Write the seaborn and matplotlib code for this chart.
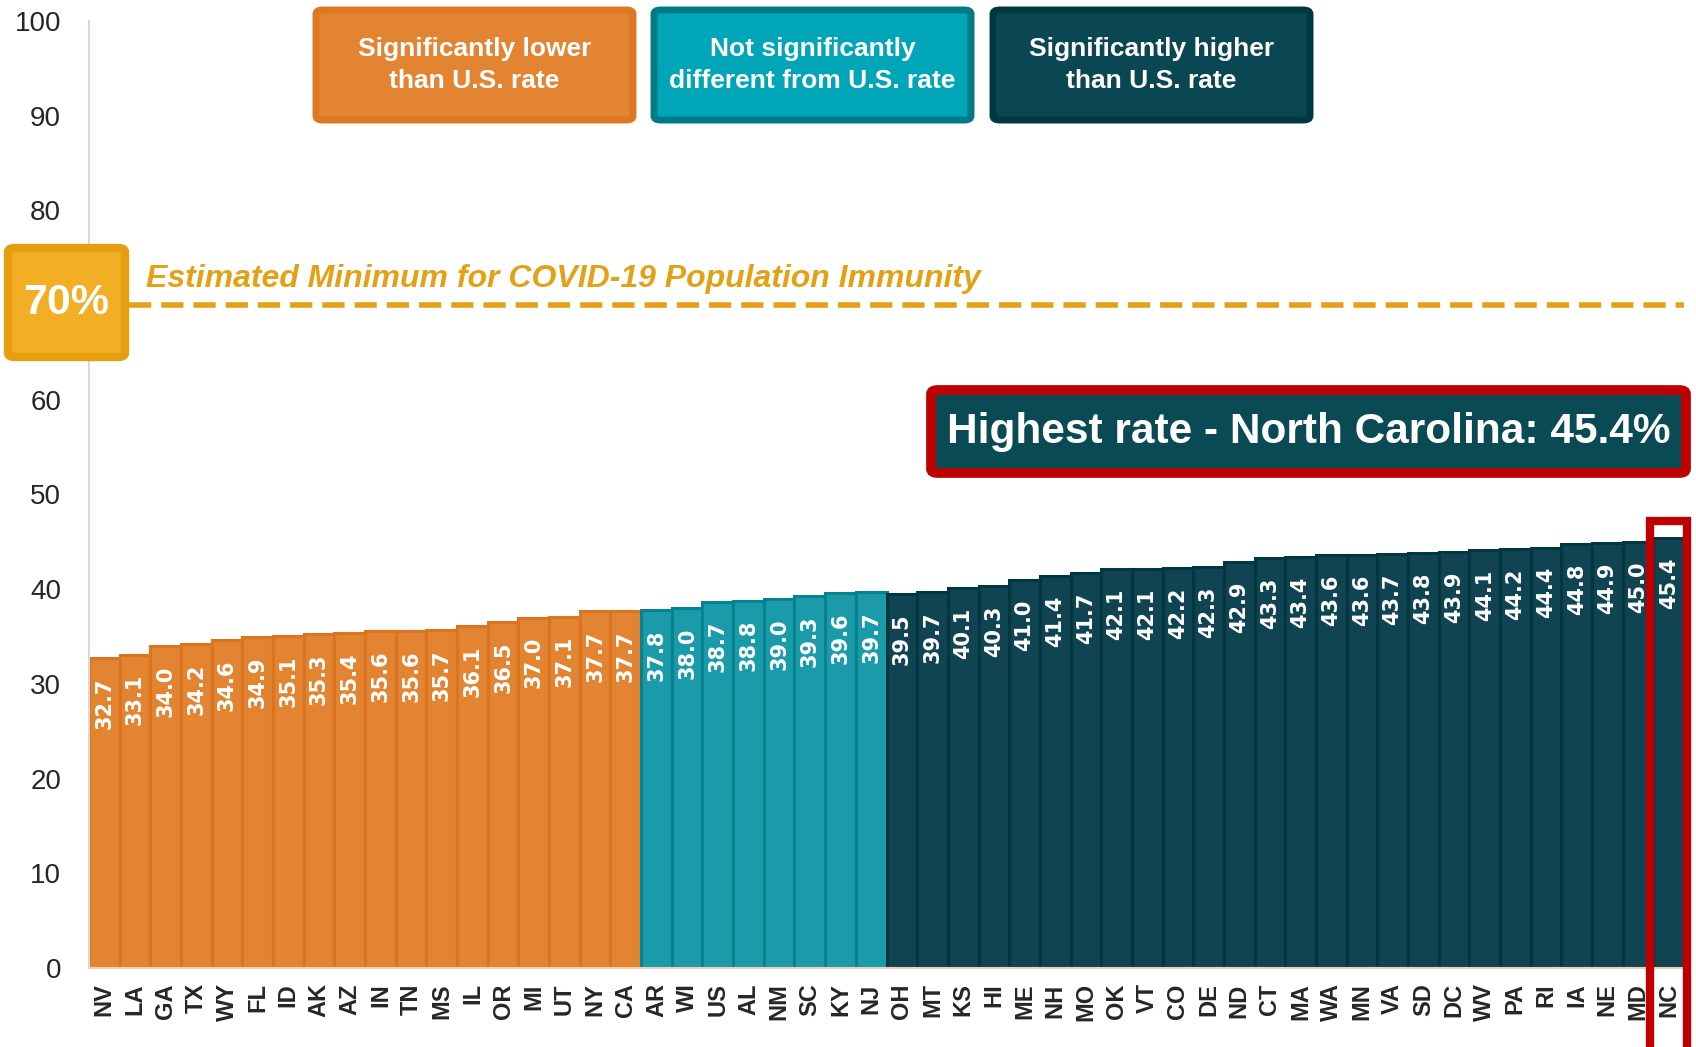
import matplotlib
matplotlib.use('Agg')
import matplotlib.pyplot as plt
import seaborn as sns
import pandas as pd
from matplotlib.patches import FancyBboxPatch, Rectangle

sns.set_style('white')
plt.rcParams['font.family'] = ['Liberation Sans', 'DejaVu Sans']

# dados
states = ['NV', 'LA', 'GA', 'TX', 'WY', 'FL', 'ID', 'AK', 'AZ', 'IN', 'TN', 'MS', 'IL',
          'OR', 'MI', 'UT', 'NY', 'CA',
          'AR', 'WI', 'US', 'AL', 'NM', 'SC', 'KY', 'NJ',
          'OH', 'MT', 'KS', 'HI', 'ME', 'NH', 'MO', 'OK', 'VT', 'CO', 'DE', 'ND', 'CT',
          'MA', 'WA', 'MN', 'VA', 'SD', 'DC', 'WV', 'PA', 'RI', 'IA', 'NE', 'MD', 'NC']
rates = [32.7, 33.1, 34.0, 34.2, 34.6, 34.9, 35.1, 35.3, 35.4, 35.6, 35.6, 35.7, 36.1,
         36.5, 37.0, 37.1, 37.7, 37.7,
         37.8, 38.0, 38.7, 38.8, 39.0, 39.3, 39.6, 39.7,
         39.5, 39.7, 40.1, 40.3, 41.0, 41.4, 41.7, 42.1, 42.1, 42.2, 42.3, 42.9, 43.3,
         43.4, 43.6, 43.6, 43.7, 43.8, 43.9, 44.1, 44.2, 44.4, 44.8, 44.9, 45.0, 45.4]
groups = ['lower'] * 18 + ['same'] * 8 + ['higher'] * 26
group_labels = ['Significantly lower\nthan U.S. rate',
                'Not significantly\ndifferent from U.S. rate',
                'Significantly higher\nthan U.S. rate']
y_ticks = [0, 10, 20, 30, 40, 50, 60, 70, 80, 90, 100]
y_ticklabels = ['0', '10', '20', '30', '40', '50', '60', '', '80', '90', '100']
immunity_target = 70
highest_text = 'Highest rate - North Carolina: 45.4%'

fill = {'lower': '#E38432', 'same': '#1B9BAA', 'higher': '#114452'}
edge = {'lower': '#DA741F', 'same': '#07838F', 'higher': '#01373E'}
box_fill = ['#E38432', '#00A6B8', '#0A4753']
box_edge = ['#DE7720', '#007A87', '#003840']
gold = '#E5A116'

df = pd.DataFrame({'state': states, 'rate': rates, 'group': groups})

W, H = 1696, 1047
fig = plt.figure(figsize=(W / 100, H / 100), dpi=100)
ax = fig.add_axes([89 / W, 1 - 968 / H, (1684 - 89) / W, (968 - 21) / H])

sns.barplot(data=df, x='state', y='rate', hue='group', palette=fill, dodge=False,
            width=1.0, legend=False, ax=ax, saturation=1)
for bar, g in zip(sorted(ax.patches, key=lambda p: p.get_x())[:len(states)], groups):
    bar.set_edgecolor(edge[g])
    bar.set_linewidth(2.2)

ax.set_xlim(-0.5, len(states) - 0.5)
ax.set_ylim(0, 100)
ax.set_yticks(y_ticks)
ax.set_yticklabels(y_ticklabels)
ax.set_xlabel('')
ax.set_ylabel('')
for s in ['top', 'right']:
    ax.spines[s].set_visible(False)
ax.spines['left'].set_color('#D9D9D9')
ax.spines['left'].set_linewidth(1.5)
ax.spines['bottom'].set_color('#F0D0B5')
ax.spines['bottom'].set_linewidth(1.5)
ax.tick_params(axis='y', length=7, width=1.3, color='#D9D9D9', labelsize=20, pad=13)
ax.tick_params(axis='x', length=0, pad=11)
for t in ax.get_xticklabels():
    t.set_rotation(90)
    t.set_fontweight('bold')
    t.set_fontsize(17)

# rotulos de valor dentro das barras
for i, v in enumerate(rates):
    ax.annotate(f'{v:.1f}', (i, v), xytext=(0, -14), textcoords='offset points',
                rotation=90, ha='center', va='top', color='white', fontsize=15,
                fontweight='bold', family='DejaVu Sans')

# linha de 70%
ax.axhline(immunity_target, xmin=0.025, xmax=1.0, color=gold, lw=4, dashes=(4, 1.8),
           zorder=1)
ax.text(1.36, immunity_target + 1.9, 'Estimated Minimum for COVID-19 Population Immunity',
        color=gold, fontsize=23, fontweight='bold', style='italic', va='baseline')


def fig_box(x0, y0, x1, y1, fc, ec, lw):
    p = FancyBboxPatch((x0 / W, 1 - y1 / H), (x1 - x0) / W, (y1 - y0) / H,
                       boxstyle='round,pad=0,rounding_size=0.004', transform=fig.transFigure,
                       fc=fc, ec=ec, lw=lw, zorder=5)
    fig.add_artist(p)
    return ((x0 + x1) / 2 / W, 1 - (y0 + y1) / 2 / H)


for k, (x0, x1) in enumerate([(316, 633), (654, 971), (993, 1310)]):
    cx, cy = fig_box(x0, 10, x1, 120, box_fill[k], box_edge[k], 5)
    fig.text(cx, cy, group_labels[k], ha='center', va='center', color='white',
             fontsize=19, fontweight='bold', linespacing=1.4, zorder=6)

cx, cy = fig_box(8, 248, 125, 357, '#F2AE24', '#E49E0E', 6)
fig.text(cx, cy, f'{immunity_target}%', ha='center', va='center', color='white',
         fontsize=31, fontweight='bold', zorder=6)

cx, cy = fig_box(931, 390, 1686, 473, '#0A4A54', '#C00000', 7)
fig.text(cx, cy, highest_text, ha='center', va='center', color='white',
         fontsize=30.5, fontweight='bold', zorder=6)

# destaque NC
n = len(states) - 1
ax.add_patch(Rectangle((n - 0.62, -12), 1.22, rates[n] + 1.8 + 12, fill=False,
                       ec='#C00000', lw=6, clip_on=False, zorder=10))

fig.savefig('out.png', dpi=100)
